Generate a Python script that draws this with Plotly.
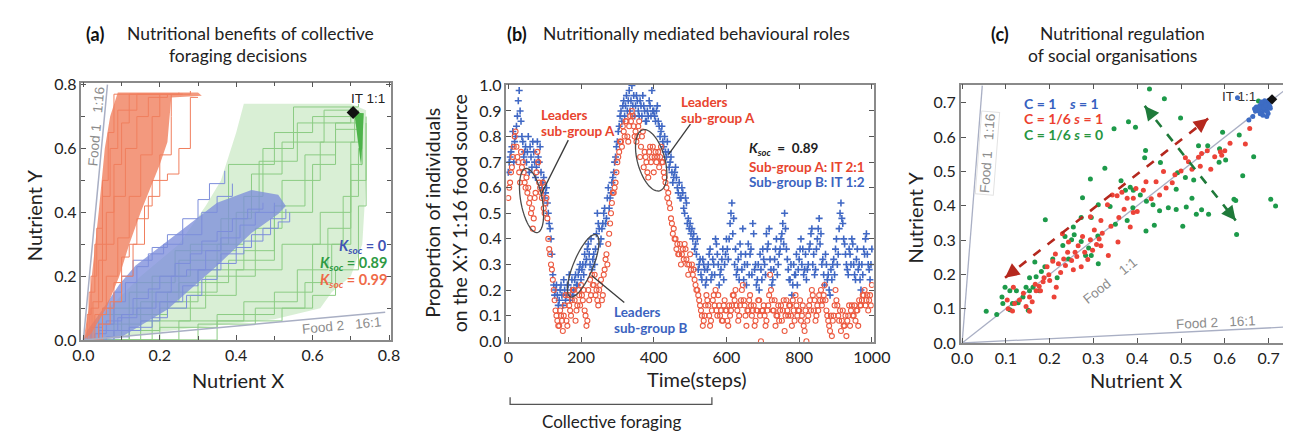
import math
import plotly.graph_objects as go

FONT = "Lato"
LBL = "Liberation Sans"
GRAY = "#8c8c8c"

# ================= Panel (a) data =================
food1_a_x = [0, 0.063]; food1_a_y = [0, 0.8]
food2_a_x = [0, 0.79];  food2_a_y = [0, 0.087]
it_a = (0.706, 0.713)

# dense envelopes of the trajectory bundles
orange_env_x = [0.0, 0.014, 0.022, 0.04, 0.056, 0.07, 0.09, 0.30, 0.31, 0.23, 0.22, 0.20, 0.15, 0.12, 0.094, 0.06, 0.02, 0.0]
orange_env_y = [0.0, 0.10, 0.20, 0.40, 0.60, 0.70, 0.775, 0.775, 0.765, 0.76, 0.62, 0.55, 0.40, 0.30, 0.20, 0.10, 0.02, 0.0]
blue_env_x = [0.0, 0.094, 0.22, 0.35, 0.44, 0.51, 0.53, 0.51, 0.44, 0.35, 0.22, 0.136, 0.094, 0.05, 0.01, 0.0]
blue_env_y = [0.0, 0.006, 0.096, 0.233, 0.335, 0.395, 0.42, 0.455, 0.47, 0.43, 0.31, 0.233, 0.174, 0.096, 0.03, 0.0]
green_env_x = [0.03, 0.30, 0.50, 0.62, 0.65, 0.70, 0.73, 0.74, 0.74, 0.70, 0.42, 0.40, 0.36, 0.32, 0.25, 0.15, 0.05, 0.0, 0.03]
green_env_y = [0.0, 0.04, 0.065, 0.10, 0.15, 0.20, 0.30, 0.50, 0.72, 0.74, 0.74, 0.65, 0.50, 0.42, 0.30, 0.20, 0.08, 0.0, 0.0]
green_wedge_x = [0.709, 0.734, 0.727, 0.709]
green_wedge_y = [0.713, 0.710, 0.545, 0.713]

orange_traj = [
    [(0,0),(0.01,0.08),(0.02,0.2),(0.035,0.35),(0.05,0.5),(0.065,0.65),(0.08,0.77),(0.25,0.775)],
    [(0,0),(0.02,0.1),(0.04,0.25),(0.06,0.4),(0.08,0.55),(0.1,0.68),(0.12,0.77),(0.28,0.78)],
    [(0,0),(0.03,0.08),(0.06,0.2),(0.09,0.32),(0.12,0.45),(0.15,0.58),(0.18,0.7),(0.2,0.77),(0.26,0.77)],
    [(0,0),(0.04,0.05),(0.07,0.12),(0.1,0.2),(0.13,0.3),(0.16,0.42),(0.18,0.5),(0.22,0.52),(0.25,0.6),(0.28,0.76),(0.3,0.76)],
    [(0,0),(0.05,0.1),(0.08,0.18),(0.1,0.26),(0.12,0.3),(0.14,0.38),(0.17,0.45),(0.2,0.58),(0.23,0.7),(0.23,0.77)],
    [(0,0),(0.015,0.15),(0.03,0.3),(0.05,0.45),(0.07,0.6),(0.09,0.72),(0.14,0.77),(0.2,0.77)],
    [(0,0),(0.025,0.12),(0.05,0.3),(0.08,0.45),(0.11,0.6),(0.14,0.7),(0.17,0.76),(0.22,0.77)],
]
blue_traj = [
    [(0,0),(0.03,0.02),(0.06,0.06),(0.1,0.08),(0.13,0.13),(0.17,0.16),(0.2,0.2),(0.24,0.24),(0.28,0.27),(0.31,0.31),(0.35,0.34),(0.39,0.38),(0.43,0.41),(0.47,0.43)],
    [(0,0),(0.02,0.04),(0.05,0.1),(0.08,0.15),(0.1,0.2),(0.13,0.25),(0.18,0.29),(0.22,0.33),(0.26,0.38),(0.3,0.44),(0.33,0.49),(0.37,0.53)],
    [(0,0),(0.04,0.05),(0.08,0.12),(0.11,0.18),(0.14,0.23),(0.17,0.27),(0.21,0.3),(0.26,0.33),(0.31,0.4),(0.35,0.45),(0.39,0.49)],
    [(0,0),(0.06,0.01),(0.12,0.04),(0.18,0.07),(0.22,0.1),(0.27,0.14),(0.31,0.19),(0.35,0.24),(0.4,0.29),(0.44,0.33),(0.49,0.38),(0.53,0.41)],
    [(0,0),(0.04,0.03),(0.09,0.07),(0.14,0.1),(0.19,0.15),(0.23,0.2),(0.27,0.22),(0.32,0.28),(0.36,0.32),(0.41,0.36),(0.45,0.4),(0.5,0.43)],
    [(0,0),(0.08,0.03),(0.15,0.06),(0.2,0.12),(0.26,0.17),(0.3,0.22),(0.36,0.27),(0.42,0.31),(0.47,0.35),(0.51,0.37),(0.54,0.4)],
]
green_traj = [
    [(0,0),(0.12,0.03),(0.2,0.1),(0.32,0.2),(0.45,0.35),(0.52,0.5),(0.62,0.62),(0.71,0.71)],
    [(0,0),(0.05,0.05),(0.15,0.12),(0.25,0.18),(0.38,0.25),(0.5,0.4),(0.6,0.55),(0.66,0.68),(0.73,0.71)],
    [(0,0),(0.2,0.04),(0.35,0.08),(0.5,0.15),(0.6,0.3),(0.68,0.45),(0.72,0.6),(0.73,0.7)],
    [(0,0),(0.08,0.1),(0.18,0.2),(0.28,0.3),(0.38,0.55),(0.5,0.65),(0.6,0.7),(0.72,0.71)],
    [(0,0),(0.3,0.05),(0.45,0.1),(0.58,0.18),(0.65,0.3),(0.7,0.5),(0.74,0.68)],
    [(0,0),(0.1,0.08),(0.22,0.15),(0.35,0.3),(0.42,0.45),(0.47,0.6),(0.55,0.73),(0.72,0.74)],
    [(0,0),(0.15,0.06),(0.28,0.14),(0.4,0.22),(0.52,0.3),(0.62,0.4),(0.7,0.55),(0.73,0.7)],
    [(0,0),(0.25,0.06),(0.42,0.12),(0.56,0.22),(0.64,0.35),(0.7,0.62),(0.72,0.72)],
    [(0,0),(0.12,0.15),(0.25,0.25),(0.36,0.38),(0.44,0.52),(0.52,0.62),(0.63,0.72),(0.71,0.73)],
    [(0,0),(0.35,0.06),(0.52,0.1),(0.6,0.14),(0.66,0.22),(0.72,0.42),(0.74,0.7)],
    [(0,0),(0.18,0.12),(0.3,0.22),(0.42,0.28),(0.5,0.42),(0.58,0.58),(0.66,0.66),(0.72,0.7)],
    [(0,0),(0.04,0.08),(0.14,0.18),(0.24,0.28),(0.4,0.4),(0.46,0.56),(0.56,0.68),(0.7,0.73)],
]

# ================= Panel (b) data =================
time_b = list(range(0, 1001, 5))
sub_b = [  # blue '+', Sub-group B
    0.66,0.72,0.76,0.70,0.80,0.88,0.98,0.86,0.78,0.74,0.70,0.80,0.76,0.68,0.74,0.64,0.78,0.70,0.66,0.62,
    0.56,0.60,0.50,0.44,0.34,0.22,0.20,0.18,0.16,0.22,0.14,0.20,0.18,0.22,0.16,0.24,0.20,0.26,0.22,0.28,
    0.24,0.30,0.34,0.32,0.38,0.30,0.28,0.34,0.36,0.50,0.44,0.40,0.46,0.52,0.48,0.60,0.56,0.62,0.66,0.72,
    0.78,0.84,0.90,0.92,0.88,0.96,0.94,0.90,1.00,0.96,0.92,0.94,0.88,0.92,0.96,0.90,0.86,0.88,0.92,0.98,
    0.90,0.86,0.92,0.84,0.82,0.78,0.80,0.72,0.74,0.70,0.66,0.64,0.68,0.60,0.62,0.56,0.58,0.50,0.54,0.48,
    0.46,0.44,0.42,0.38,0.40,0.30,0.26,0.32,0.28,0.24,0.30,0.36,0.26,0.30,0.40,0.34,0.22,0.28,0.36,0.30,
    0.40,0.32,0.46,0.54,0.48,0.36,0.28,0.24,0.34,0.44,0.30,0.22,0.38,0.34,0.26,0.42,0.30,0.24,0.20,0.28,
    0.36,0.30,0.42,0.38,0.32,0.22,0.28,0.36,0.26,0.34,0.40,0.46,0.50,0.36,0.28,0.24,0.18,0.30,0.26,0.22,
    0.32,0.40,0.36,0.28,0.24,0.30,0.38,0.44,0.34,0.28,0.40,0.48,0.42,0.32,0.22,0.30,0.26,0.18,0.24,0.32,
    0.36,0.30,0.44,0.54,0.46,0.38,0.30,0.26,0.34,0.40,0.30,0.24,0.36,0.30,0.20,0.26,0.34,0.42,0.30,0.24,
    0.36]
sub_a = [  # red 'o', Sub-group A
    0.56,0.62,0.68,0.76,0.82,0.72,0.66,0.74,0.70,0.62,0.64,0.60,0.56,0.52,0.48,0.58,0.74,0.62,0.58,0.62,
    0.50,0.56,0.40,0.34,0.28,0.20,0.12,0.08,0.06,0.10,0.04,0.14,0.08,0.18,0.12,0.16,0.20,0.08,0.14,0.18,
    0.22,0.16,0.12,0.06,0.20,0.24,0.26,0.22,0.18,0.16,0.20,0.24,0.18,0.28,0.34,0.38,0.46,0.54,0.58,0.62,
    0.70,0.74,0.78,0.84,0.80,0.86,0.78,0.88,0.90,0.84,0.82,0.80,0.86,0.76,0.82,0.74,0.70,0.64,0.76,0.72,
    0.66,0.74,0.72,0.68,0.76,0.70,0.64,0.60,0.58,0.52,0.46,0.44,0.40,0.38,0.34,0.30,0.36,0.38,0.32,0.26,
    0.34,0.30,0.28,0.22,0.20,0.16,0.12,0.06,0.10,0.18,0.14,0.06,0.12,0.18,0.20,0.10,0.14,0.12,0.08,0.16,
    0.12,0.06,0.10,0.14,0.18,0.20,0.12,0.10,0.16,0.22,0.14,0.06,0.12,0.18,0.10,0.14,0.08,0.12,0.16,0.00,
    0.12,0.10,0.08,0.14,0.26,0.16,0.12,0.06,0.10,0.08,0.14,0.12,0.04,0.16,0.10,0.14,0.06,0.12,0.18,0.10,
    0.12,0.08,0.14,0.04,0.00,0.10,0.16,0.20,0.12,0.08,0.14,0.18,0.20,0.16,0.22,0.12,0.08,0.04,0.02,0.10,
    0.20,0.14,0.08,0.04,0.12,0.06,0.02,0.10,0.06,0.14,0.10,0.08,0.12,0.16,0.14,0.18,0.20,0.16,0.12,0.18,
    0.22]
# a second replicate, sampled half-way between the steps above
time_b2 = [2.5 + 5 * k for k in range(200)]
sub_b2 = [
    0.70,0.74,0.82,0.78,0.84,0.94,0.90,0.80,0.72,0.76,0.74,0.66,0.72,0.78,0.70,0.68,0.72,0.76,0.60,0.64,
    0.58,0.54,0.46,0.40,0.26,0.18,0.22,0.14,0.20,0.18,0.24,0.16,0.22,0.26,0.20,0.18,0.24,0.22,0.26,0.30,
    0.28,0.26,0.30,0.36,0.34,0.40,0.32,0.30,0.42,0.46,0.38,0.44,0.50,0.46,0.56,0.52,0.58,0.64,0.70,0.76,
    0.82,0.88,0.86,0.94,0.92,0.90,0.98,0.94,0.92,0.88,0.96,0.90,0.94,0.88,0.92,0.86,0.90,0.94,0.88,0.90,
    0.88,0.90,0.86,0.80,0.84,0.76,0.74,0.78,0.68,0.72,0.62,0.66,0.64,0.58,0.56,0.60,0.52,0.56,0.46,0.44,
    0.42,0.40,0.36,0.34,0.28,0.32,0.24,0.30,0.22,0.28,0.34,0.24,0.32,0.26,0.38,0.30,0.26,0.32,0.24,0.34,
    0.36,0.40,0.50,0.42,0.30,0.26,0.32,0.38,0.28,0.24,0.34,0.30,0.26,0.36,0.46,0.28,0.22,0.30,0.34,0.24,
    0.32,0.26,0.36,0.44,0.28,0.24,0.32,0.40,0.30,0.36,0.42,0.38,0.44,0.32,0.24,0.30,0.22,0.26,0.34,0.28,
    0.36,0.30,0.26,0.34,0.28,0.36,0.42,0.30,0.26,0.36,0.44,0.38,0.30,0.26,0.34,0.24,0.20,0.28,0.30,0.26,
    0.40,0.34,0.50,0.48,0.40,0.34,0.28,0.36,0.30,0.38,0.26,0.32,0.28,0.24,0.30,0.36,0.40,0.34,0.28,0.30]
sub_a2 = [
    0.60,0.66,0.72,0.80,0.76,0.70,0.62,0.68,0.66,0.60,0.58,0.54,0.50,0.44,0.56,0.66,0.70,0.60,0.56,0.52,
    0.54,0.48,0.36,0.30,0.24,0.16,0.10,0.06,0.12,0.08,0.10,0.18,0.06,0.14,0.10,0.20,0.16,0.12,0.20,0.14,
    0.18,0.20,0.10,0.08,0.16,0.18,0.22,0.26,0.20,0.14,0.22,0.16,0.26,0.32,0.30,0.42,0.50,0.58,0.60,0.66,
    0.72,0.78,0.76,0.82,0.86,0.80,0.84,0.86,0.88,0.80,0.78,0.84,0.72,0.80,0.68,0.72,0.66,0.74,0.70,0.76,
    0.72,0.70,0.74,0.72,0.70,0.66,0.62,0.56,0.54,0.48,0.42,0.40,0.36,0.34,0.38,0.34,0.32,0.36,0.30,0.30,
    0.28,0.26,0.24,0.20,0.18,0.14,0.10,0.08,0.14,0.16,0.10,0.08,0.16,0.14,0.12,0.18,0.10,0.08,0.14,0.12,
    0.08,0.14,0.12,0.18,0.16,0.14,0.08,0.14,0.20,0.16,0.10,0.12,0.16,0.14,0.12,0.06,0.12,0.16,0.10,0.12,
    0.14,0.06,0.12,0.18,0.20,0.12,0.16,0.10,0.14,0.12,0.08,0.16,0.10,0.12,0.14,0.10,0.16,0.08,0.14,0.12,
    0.16,0.10,0.06,0.12,0.08,0.14,0.12,0.18,0.16,0.10,0.12,0.16,0.14,0.18,0.16,0.10,0.06,0.10,0.08,0.14,
    0.16,0.10,0.12,0.08,0.06,0.10,0.08,0.14,0.12,0.10,0.14,0.12,0.06,0.14,0.16,0.18,0.14,0.18,0.16,0.14]
bracket_b = (5, 560)

# ================= Panel (c) data =================
blue_c_x = [0.668,0.672,0.676,0.680,0.683,0.686,0.689,0.692,0.695,0.698,0.701,0.704,0.690,0.685,0.678,0.694,0.699,0.687,0.681,0.674,0.697,0.703,0.691,0.684,0.688,0.693,0.679,0.670,0.700,0.696,0.655,0.664,0.629]
blue_c_y = [0.683,0.688,0.680,0.692,0.685,0.697,0.690,0.700,0.694,0.688,0.697,0.684,0.678,0.672,0.676,0.682,0.669,0.664,0.668,0.679,0.675,0.690,0.706,0.702,0.687,0.693,0.686,0.676,0.707,0.660,0.650,0.660,0.715]
red_c = [(0.657,0.625),(0.647,0.580),(0.590,0.557),(0.593,0.547),(0.577,0.543),(0.547,0.552),(0.540,0.541),(0.568,0.506),(0.544,0.515),(0.525,0.506),(0.517,0.528),(0.500,0.501),(0.486,0.490),(0.480,0.467),(0.466,0.452),(0.443,0.470),(0.451,0.431),(0.432,0.420),(0.414,0.445),(0.397,0.450),(0.391,0.422),(0.400,0.383),(0.391,0.380),(0.377,0.422),(0.365,0.439),(0.354,0.429),(0.343,0.431),(0.332,0.403),(0.358,0.366),(0.384,0.338),(0.356,0.294),(0.317,0.357),(0.293,0.368),(0.302,0.329),(0.313,0.303),(0.293,0.301),(0.275,0.310),(0.265,0.283),(0.280,0.264),(0.287,0.243),(0.272,0.222),(0.258,0.264),(0.243,0.294),(0.229,0.318),(0.241,0.264),(0.232,0.245),(0.213,0.259),(0.220,0.231),(0.207,0.238),(0.194,0.222),(0.187,0.190),(0.198,0.199),(0.215,0.162),(0.210,0.134),(0.179,0.152),(0.169,0.152),(0.167,0.171),(0.154,0.134),(0.146,0.106),(0.154,0.092),(0.131,0.125),(0.120,0.115),(0.103,0.125),(0.117,0.162),(0.254,0.213),(0.317,0.283),(0.334,0.255),(0.307,0.287),(0.185,0.178),(0.176,0.165),(0.200,0.182),(0.225,0.205),(0.236,0.226),(0.250,0.240),(0.262,0.252),(0.298,0.270),(0.320,0.320),(0.340,0.340),(0.370,0.390),(0.420,0.470),(0.460,0.500),(0.510,0.540),(0.560,0.560),(0.600,0.560),(0.612,0.582),(0.105,0.100),(0.115,0.093),(0.140,0.145),(0.160,0.120)]
green_c = [(0.428,0.740),(0.462,0.712),(0.499,0.656),(0.396,0.629),(0.380,0.645),(0.347,0.624),(0.419,0.561),(0.453,0.526),(0.417,0.540),(0.326,0.509),(0.293,0.478),(0.275,0.423),(0.190,0.359),(0.363,0.473),(0.373,0.445),(0.384,0.454),(0.407,0.431),(0.421,0.413),(0.436,0.403),(0.420,0.326),(0.439,0.343),(0.451,0.385),(0.471,0.394),(0.489,0.389),(0.512,0.396),(0.504,0.340),(0.535,0.375),(0.547,0.388),(0.563,0.375),(0.525,0.422),(0.510,0.482),(0.492,0.496),(0.489,0.448),(0.529,0.475),(0.540,0.575),(0.561,0.575),(0.587,0.527),(0.595,0.614),(0.588,0.566),(0.602,0.533),(0.633,0.606),(0.641,0.487),(0.666,0.543),(0.621,0.419),(0.625,0.415),(0.627,0.316),(0.705,0.419),(0.716,0.399),(0.677,0.705),(0.338,0.398),(0.295,0.366),(0.311,0.403),(0.272,0.366),(0.256,0.315),(0.272,0.296),(0.289,0.277),(0.295,0.255),(0.311,0.231),(0.254,0.338),(0.230,0.284),(0.207,0.245),(0.189,0.222),(0.166,0.236),(0.154,0.190),(0.146,0.162),(0.154,0.152),(0.139,0.134),(0.124,0.152),(0.115,0.115),(0.109,0.097),(0.093,0.115),(0.091,0.134),(0.098,0.162),(0.079,0.083),(0.055,0.092),(0.109,0.152),(0.128,0.117),(0.151,0.095),(0.169,0.193),(0.181,0.208),(0.176,0.152),(0.162,0.162),(0.217,0.190),(0.243,0.245),(0.250,0.301),(0.282,0.255),(0.235,0.310),(0.391,0.445),(0.390,0.394),(0.377,0.357),(0.350,0.346),(0.310,0.312)]
food1_c_x = [0, 0.046]; food1_c_y = [0, 0.75]
food11_c_x = [0, 0.735]; food11_c_y = [0, 0.735]
food2_c_x = [0, 0.735]; food2_c_y = [0, 0.046]
it_c = (0.708, 0.710)
red_arrow_c = [(0.098, 0.190), (0.562, 0.654)]
green_arrow_c = [(0.417, 0.691), (0.625, 0.357)]

# ================= figure =================
fig = go.Figure()

C_OR = "#f07f5e"; C_BL = "#7d8edb"

def poly(xs, ys, color, xa="x", ya="y"):
    fig.add_trace(go.Scatter(x=xs, y=ys, mode="lines", fill="toself", fillcolor=color,
                             line=dict(width=0), hoverinfo="skip", showlegend=False, xaxis=xa, yaxis=ya))

def traj(pts, color, width=1.0):
    fig.add_trace(go.Scatter(x=[p[0] for p in pts], y=[p[1] for p in pts], mode="lines",
                             line=dict(color=color, width=width, shape="hv"),
                             hoverinfo="skip", showlegend=False, xaxis="x", yaxis="y"))

# Panel a
poly(green_env_x, green_env_y, "rgba(159,214,151,0.40)")
for t in green_traj:
    traj(t, "#8ccc84")
poly(blue_env_x, blue_env_y, "rgba(125,142,219,0.78)")
for t in blue_traj:
    traj(t, C_BL)
poly(orange_env_x, orange_env_y, "rgba(240,127,94,0.80)")
for t in orange_traj:
    traj(t, C_OR)
poly(green_wedge_x, green_wedge_y, "#4db34a")
for xs, ys in [(food1_a_x, food1_a_y), (food2_a_x, food2_a_y)]:
    fig.add_trace(go.Scatter(x=xs, y=ys, mode="lines", line=dict(color="#a9afc4", width=1.5),
                             hoverinfo="skip", showlegend=False, xaxis="x", yaxis="y"))
fig.add_trace(go.Scatter(x=[it_a[0]], y=[it_a[1]], mode="markers",
                         marker=dict(symbol="diamond", size=10, color="#111"),
                         showlegend=False, xaxis="x", yaxis="y"))

# Panel b
for tt, vv in [(time_b, sub_b), (time_b2, sub_b2)]:
    fig.add_trace(go.Scatter(x=tt, y=vv, mode="markers",
                             marker=dict(symbol="cross-thin", size=5, line=dict(color="#4068c4", width=1.6)),
                             showlegend=False, xaxis="x2", yaxis="y2"))
for tt, vv in [(time_b, sub_a), (time_b2, sub_a2)]:
    fig.add_trace(go.Scatter(x=tt, y=vv, mode="markers",
                             marker=dict(symbol="circle-open", size=5, color="#ec5a40", line=dict(width=1.1)),
                             showlegend=False, xaxis="x2", yaxis="y2"))

# Panel c
for xs, ys in [(food1_c_x, food1_c_y), (food11_c_x, food11_c_y), (food2_c_x, food2_c_y)]:
    fig.add_trace(go.Scatter(x=xs, y=ys, mode="lines", line=dict(color="#a9afc4", width=1.3),
                             hoverinfo="skip", showlegend=False, xaxis="x3", yaxis="y3"))
fig.add_trace(go.Scatter(x=[p[0] for p in green_c], y=[p[1] for p in green_c], mode="markers",
                         marker=dict(size=5, color="#1d9a4a"), showlegend=False, xaxis="x3", yaxis="y3"))
fig.add_trace(go.Scatter(x=[p[0] for p in red_c], y=[p[1] for p in red_c], mode="markers",
                         marker=dict(size=5, color="#ec4338"), showlegend=False, xaxis="x3", yaxis="y3"))
fig.add_trace(go.Scatter(x=blue_c_x, y=blue_c_y, mode="markers",
                         marker=dict(size=5, color="#3d6cc4"), showlegend=False, xaxis="x3", yaxis="y3"))
fig.add_trace(go.Scatter(x=[it_c[0]], y=[it_c[1]], mode="markers",
                         marker=dict(symbol="diamond", size=8, color="#111"),
                         showlegend=False, xaxis="x3", yaxis="y3"))

shapes = []
ann = []

# ---- ellipses & leader lines in panel b
SX = 375 / 1010.0   # px per step
SY = 269 / 1.006    # px per unit
def ellipse_path(cx, cy, a, b, ang):
    th = math.radians(ang)
    pts = []
    for i in range(73):
        ph = 2 * math.pi * i / 72
        px = a * math.cos(ph) * math.cos(th) - b * math.sin(ph) * math.sin(th)
        py = a * math.cos(ph) * math.sin(th) + b * math.sin(ph) * math.cos(th)
        pts.append((cx + px / SX, cy + py / SY))
    return "M " + " L ".join(f"{x:.3f},{y:.4f}" for x, y in pts) + " Z"

for cx, cy, a, b, ang in [(64, 0.55, 34, 11, 100), (206, 0.295, 35, 10, 68), (393, 0.707, 33, 14, 105)]:
    shapes.append(dict(type="path", path=ellipse_path(cx, cy, a, b, ang), xref="x2", yref="y2",
                       line=dict(color="#4a4a4a", width=1.3)))
for (x0, y0), (x1, y1) in [((91, 0.576), (165, 0.786)), ((229, 0.257), (319, 0.151)), ((441, 0.73), (501, 0.849))]:
    shapes.append(dict(type="line", x0=x0, y0=y0, x1=x1, y1=y1, xref="x2", yref="y2",
                       line=dict(color="#3a3a3a", width=1.3)))
# bracket for collective foraging
shapes.append(dict(type="path", xref="x2", yref="paper",
                   path=f"M {bracket_b[0]},0.078 L {bracket_b[0]},0.061 L {bracket_b[1]},0.061 L {bracket_b[1]},0.078",
                   line=dict(color="#555", width=1.3)))

# ---- arrows in panel c
for (p0, p1, col) in [(red_arrow_c[0], red_arrow_c[1], "#b5281e"), (green_arrow_c[0], green_arrow_c[1], "#1f7a3a")]:
    shapes.append(dict(type="line", x0=p0[0], y0=p0[1], x1=p1[0], y1=p1[1], xref="x3", yref="y3",
                       line=dict(color=col, width=2.6, dash="dash")))
    dx, dy = p1[0] - p0[0], p1[1] - p0[1]
    L = math.hypot(dx, dy)
    ux, uy = dx / L, dy / L
    for head, sgn in [(p1, -1), (p0, 1)]:
        ann.append(dict(x=head[0], y=head[1], ax=head[0] + sgn * ux * 0.03, ay=head[1] + sgn * uy * 0.03,
                        xref="x3", yref="y3", axref="x3", ayref="y3", text="", showarrow=True,
                        arrowhead=2, arrowsize=1.1, arrowwidth=2.6, arrowcolor=col))

def txt(x, y, s, xref, yref, size=14, color="#222", xanchor="center", yanchor="middle", angle=0, family=FONT, **kw):
    d = dict(x=x, y=y, text=s, xref=xref, yref=yref, showarrow=False, xanchor=xanchor, yanchor=yanchor,
             textangle=angle, font=dict(family=family, size=size, color=color))
    d.update(kw)
    ann.append(d)

# ---- titles
txt(87/1300, 1 - 25/439, "<b>(a)</b>", "paper", "paper", size=18, color="#111")
txt(246/1300, 1 - 25/439, "Nutritional benefits of collective", "paper", "paper", size=17.5, color="#222")
txt(233/1300, 1 - 48/439, "foraging decisions", "paper", "paper", size=17.5, color="#222")
txt(518/1300, 1 - 25/439, "<b>(b)</b>", "paper", "paper", size=18, color="#111")
txt(542/1300, 1 - 25/439, "Nutritionally mediated behavioural roles", "paper", "paper", size=17.5, color="#222", xanchor="left")
txt(1011/1300, 1 - 25/439, "<b>(c)</b>", "paper", "paper", size=18, color="#111")
txt(1136/1300, 1 - 25/439, "Nutritional regulation", "paper", "paper", size=17.5, color="#222")
txt(1126/1300, 1 - 48/439, "of social organisations", "paper", "paper", size=17.5, color="#222")

# ---- axis titles
txt(233/1300, 1 - 387/439, "Nutrient X", "paper", "paper", size=20)
txt(24/1300, 1 - 215/439, "Nutrient Y", "paper", "paper", size=20, angle=-90)
txt(702/1300, 1 - 386/439, "Time(steps)", "paper", "paper", size=20)
txt(432/1300, 1 - 212/439, "Proportion of individuals", "paper", "paper", size=19.5, angle=-90)
txt(459/1300, 1 - 212/439, "on the X:Y 1:16 food source", "paper", "paper", size=19.5, angle=-90)
txt(1150/1300, 1 - 387/439, "Nutrient X", "paper", "paper", size=20)
txt(924/1300, 1 - 217/439, "Nutrient Y", "paper", "paper", size=20, angle=-90)
txt(615/1300, 1 - 430/439, "Collective foraging", "paper", "paper", size=17)

# ---- panel a labels
txt(0.033, 0.67, "Food 1   1:16", "x", "y", size=13.5, color=GRAY, angle=-84.7, family=LBL)
txt(0.677, 0.045, "Food 2   16:1", "x", "y", size=13.5, color=GRAY, angle=-5.3, family=LBL)
txt(0.744, 0.757, "IT 1:1", "x", "y", size=13.5, color="#222", family=LBL)
K = "<i>K</i><sub><i>soc</i></sub>"
txt(0.80, 0.294, f"<b>{K} = 0</b>", "x", "y", size=14.5, color="#3f52b4", xanchor="right")
txt(0.80, 0.240, f"<b>{K} = 0.89</b>", "x", "y", size=14.5, color="#2e9a43", xanchor="right")
txt(0.80, 0.186, f"<b>{K} = 0.99</b>", "x", "y", size=14.5, color="#ef6a48", xanchor="right")

# ---- panel b labels
RED = "#e8442e"; BLUE = "#3b63c0"
txt(84, 0.883, "<b>Leaders</b>", "x2", "y2", size=13.5, color=RED, xanchor="left")
txt(84, 0.822, "<b>sub-group A</b>", "x2", "y2", size=13.5, color=RED, xanchor="left")
txt(470, 0.935, "<b>Leaders</b>", "x2", "y2", size=13.5, color=RED, xanchor="left")
txt(470, 0.873, "<b>sub-group A</b>", "x2", "y2", size=13.5, color=RED, xanchor="left")
txt(286, 0.113, "<b>Leaders</b>", "x2", "y2", size=13.5, color=BLUE, xanchor="left")
txt(286, 0.052, "<b>sub-group B</b>", "x2", "y2", size=13.5, color=BLUE, xanchor="left")
txt(657, 0.751, f"<b>{K}  =  0.89</b>", "x2", "y2", size=13.5, color="#222", xanchor="left")
txt(657, 0.682, "<b>Sub-group A: IT 2:1</b>", "x2", "y2", size=13.5, color=RED, xanchor="left")
txt(657, 0.622, "<b>Sub-group B: IT 1:2</b>", "x2", "y2", size=13.5, color=BLUE, xanchor="left")

# ---- panel c labels
txt(0.058, 0.552, "Food 1   1:16", "x3", "y3", size=13.5, color=GRAY, angle=-85.6, family=LBL,
    bordercolor="#e2e2e2", borderwidth=1, borderpad=1)
txt(0.581, 0.059, "Food 2   16:1", "x3", "y3", size=13.5, color=GRAY, angle=-2.8, family=LBL)
txt(0.339, 0.181, "Food    1:1", "x3", "y3", size=13.5, color=GRAY, angle=-38.7, family=LBL)
txt(0.632, 0.718, "IT 1:1", "x3", "y3", size=13.5, color="#333", family=LBL)
txt(0.136, 0.699, "<b>C = 1    <i>s</i> = 1</b>", "x3", "y3", size=14, color="#3560c0", xanchor="left")
txt(0.136, 0.653, "<b>C = 1/6 <i>s</i> = 1</b>", "x3", "y3", size=14, color="#ec3f30", xanchor="left")
txt(0.136, 0.607, "<b>C = 1/6 <i>s</i> = 0</b>", "x3", "y3", size=14, color="#27963f", xanchor="left")

AX = dict(showgrid=False, zeroline=False, showline=True, linecolor="#8a8a8a", linewidth=1.5,
          ticks="inside", ticklen=5, tickcolor="#555", tickwidth=1.2,
          tickfont=dict(family=FONT, size=16, color="#222"))

fig.update_layout(
    width=1300, height=439, margin=dict(l=0, r=0, t=0, b=0),
    paper_bgcolor="white", plot_bgcolor="white", showlegend=False,
    font=dict(family=FONT),
    xaxis=dict(AX, domain=[73/1300, 389/1300], range=[-0.005, 0.805], dtick=0.2, tickformat=".1f",
               mirror="ticks", minor=dict(ticks="inside", dtick=0.1, ticklen=4, tickcolor="#555"), anchor="y"),
    yaxis=dict(AX, domain=[1 - 345/439, 1 - 76/439], range=[0, 0.806], dtick=0.2, tickformat=".1f",
               mirror="ticks", minor=dict(ticks="inside", dtick=0.1, ticklen=4, tickcolor="#555"), anchor="x"),
    xaxis2=dict(AX, domain=[507/1300, 882/1300], range=[-5, 1005], dtick=200, mirror="ticks", anchor="y2"),
    yaxis2=dict(AX, domain=[1 - 347/439, 1 - 78/439], range=[-0.003, 1.003], dtick=0.1, tickformat=".1f",
                mirror="ticks", anchor="x2"),
    xaxis3=dict(AX, domain=[971/1300, 1.0], range=[-0.003, 0.733], dtick=0.1, tickformat=".1f",
                mirror="ticks", anchor="y3"),
    yaxis3=dict(AX, domain=[1 - 348/439, 1 - 78/439], range=[0, 0.753], dtick=0.1, tickformat=".1f",
                mirror=False, anchor="x3"),
    shapes=shapes, annotations=ann,
)

fig.write_html("out.html", config={"displayModeBar": False},
               post_script="document.body.style.margin='0';document.body.style.overflow='hidden';")
